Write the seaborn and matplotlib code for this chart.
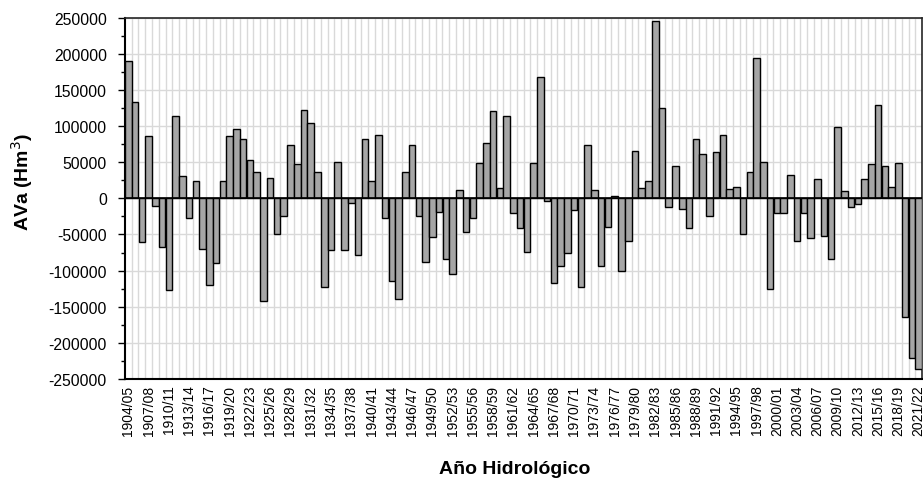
import matplotlib
matplotlib.use("Agg")
import matplotlib.pyplot as plt
import matplotlib.ticker as mticker
import seaborn as sns
import pandas as pd
import numpy as np

start_years = list(range(1904, 2022))
years = [f"{y}/{(y + 1) % 100:02d}" for y in start_years]

ava = [
    190000, 133000, -60000, 86000, -10000, -67600, -127000, 114500, 30800, -26700,
    24400, -69500, -120500, -90000, 24400, 86000, 96000, 82000, 53000, 37000,
    -141700, 28500, -49000, -25000, 73600, 47000, 123000, 104000, 37000, -123000,
    -72000, 51000, -72000, -6400, -78000, 82000, 24400, 88000, -26700, -115000,
    -139000, 37000, 73600, -25000, -88000, -53000, -18400, -84000, -104000, 12000,
    -47000, -26700, 49000, 76000, 120500, 14000, 114500, -20700, -41400, -74000,
    49000, 168000, -4000, -117000, -94000, -76000, -16600, -123000, 73600, 12000,
    -94000, -39000, 3700, -100000, -59000, 65800, 14000, 24400, 246000, 124700,
    -12400, 44600, -14700, -41400, 82000, 61600, -25000, 63500, 88300, 12400,
    16000, -49000, 37000, 194600, 51000, -125000, -20700, -20700, 32700, -59000,
    -20700, -55000, 26700, -51500, -84000, 98400, 10100, -12400, -8300, 26700,
    47400, 128800, 45000, 16000, 49000, -163800, -221000, -235500,
]

df = pd.DataFrame({"year": years, "ava": ava})

sns.set_style("white")
plt.rcParams["font.family"] = ["Liberation Sans", "DejaVu Sans"]
plt.rcParams["text.color"] = "black"
plt.rcParams["xtick.color"] = "black"
plt.rcParams["ytick.color"] = "black"
plt.rcParams["axes.labelcolor"] = "black"

fig = plt.figure(figsize=(9.23, 4.81), dpi=100)
ax = fig.add_axes([0.1354, 0.21, 0.8636, 0.751])

sns.barplot(data=df, x="year", y="ava", color="#a6a6a6", saturation=1,
            edgecolor="black", linewidth=1.0, width=0.97, ax=ax, zorder=3)

n = len(years)
ax.set_xlim(-0.5, n - 0.5)
ax.set_ylim(-250000, 250000)

ax.yaxis.set_major_locator(mticker.MultipleLocator(50000))
ax.yaxis.set_minor_locator(mticker.MultipleLocator(25000))
ax.yaxis.set_major_formatter(mticker.FuncFormatter(lambda v, p: f"{int(v)}"))

ax.set_xticks(range(0, n, 3))
ax.set_xticklabels([years[i] for i in range(0, n, 3)], rotation=90)
ax.set_xticks(np.arange(0.5, n - 0.5, 1.0), minor=True)

ax.grid(False)
ax.grid(True, axis="y", which="major", color="#d9d9d9", linewidth=1.0, zorder=0)
ax.grid(True, axis="x", which="minor", color="#d9d9d9", linewidth=1.0, zorder=0)
ax.set_axisbelow(True)

ax.axhline(0, color="black", linewidth=1.2, zorder=4)

ax.tick_params(axis="y", which="major", direction="out", length=5, width=1,
               labelsize=11.3, colors="black", left=True, pad=8)
ax.tick_params(axis="y", which="minor", direction="out", length=3, width=1,
               left=True, colors="black")
ax.tick_params(axis="x", which="both", length=0, labelsize=10, pad=4,
               colors="black")

for side in ["left", "bottom"]:
    ax.spines[side].set_color("black")
    ax.spines[side].set_linewidth(1.5)
for side in ["top", "right"]:
    ax.spines[side].set_color("#262626")
    ax.spines[side].set_linewidth(1.2)
    ax.spines[side].set_visible(True)

ax.set_xlabel("")
ax.set_ylabel("")
fig.text(515 / 923, 1 - 470 / 481, "Año Hidrológico", fontsize=14,
         fontweight="bold", ha="center", va="center", color="black")
fig.text(22 / 923, 1 - 182 / 481, "AVa (Hm$^3$)", fontsize=14,
         fontweight="bold", ha="center", va="center", rotation=90,
         color="black")

fig.savefig("out.png", dpi=100)
